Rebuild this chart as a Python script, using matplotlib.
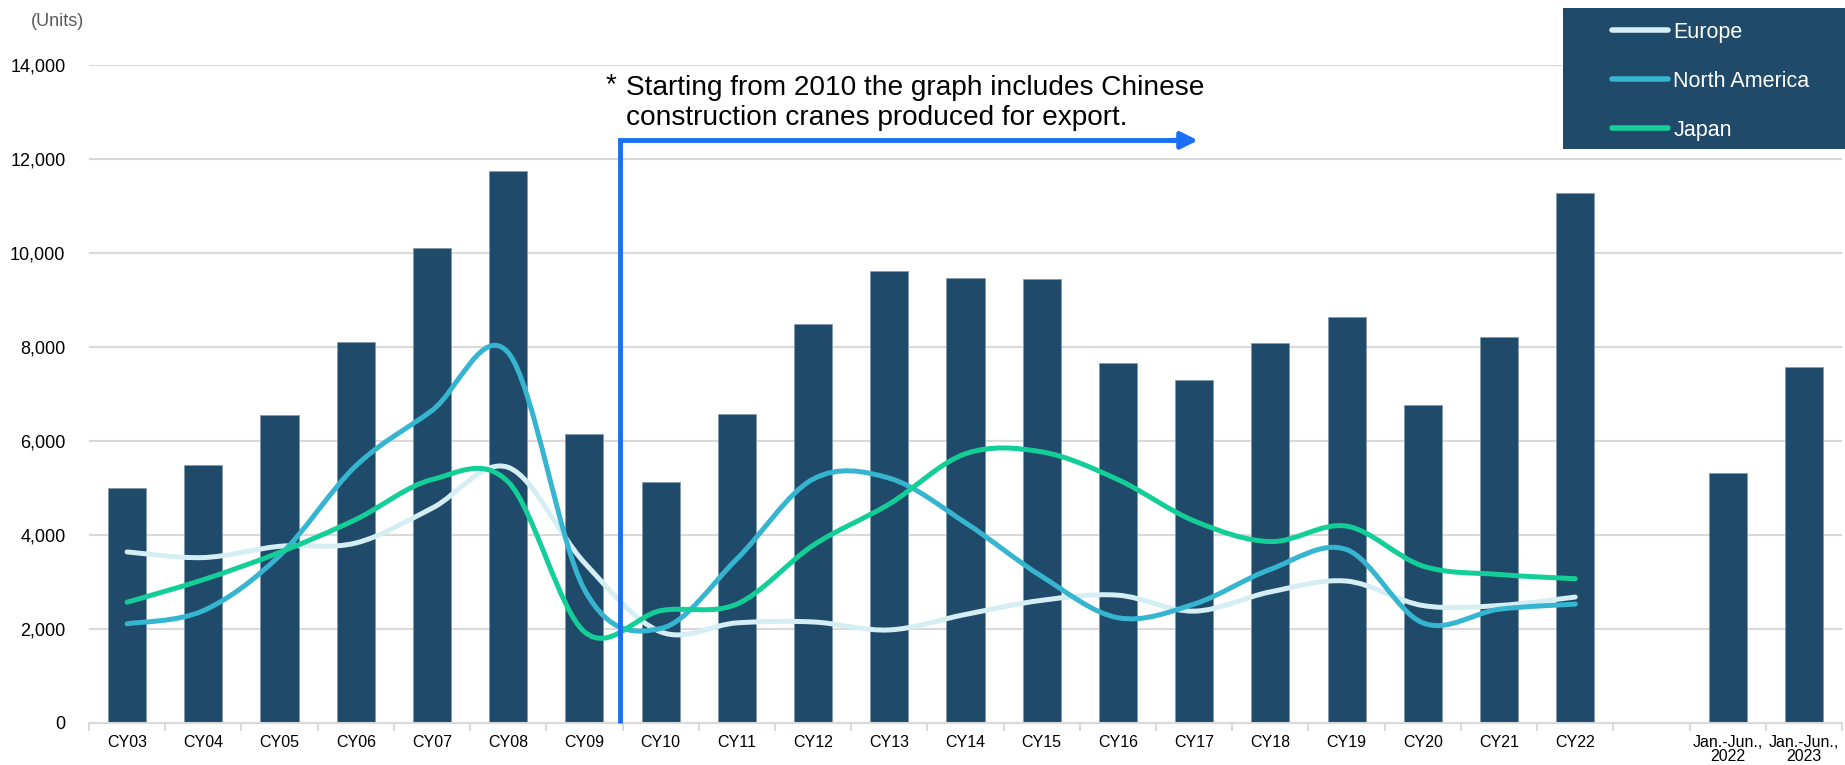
import numpy as np
import matplotlib
matplotlib.use("Agg")
import matplotlib.pyplot as plt
from matplotlib.path import Path
from matplotlib.patches import PathPatch, Rectangle
from matplotlib.lines import Line2D

plt.rcParams['font.family'] = ['Liberation Sans', 'DejaVu Sans']

# Data (units)
categories = ["CY03", "CY04", "CY05", "CY06", "CY07", "CY08", "CY09", "CY10",
              "CY11", "CY12", "CY13", "CY14", "CY15", "CY16", "CY17", "CY18",
              "CY19", "CY20", "CY21", "CY22", "", "Jan.-Jun.,\n2022", "Jan.-Jun.,\n2023"]
total = [5000, 5470, 6550, 8100, 10100, 11730, 6150, 5120, 6570, 8490, 9610,
         9460, 9430, 7660, 7290, 8070, 8620, 6760, 8200, 11280, None, 5310, 7560]
europe = [3630, 3510, 3750, 3820, 4560, 5430, 3400, 1930, 2120, 2140, 1970,
          2300, 2600, 2710, 2370, 2780, 3010, 2490, 2490, 2670]
north_america = [2100, 2380, 3550, 5460, 6640, 7870, 2830, 2000, 3480, 5180,
                 5200, 4250, 3110, 2230, 2520, 3260, 3680, 2120, 2410, 2520]
japan = [2560, 3040, 3620, 4320, 5170, 5120, 1930, 2380, 2520, 3770, 4650,
         5720, 5760, 5170, 4290, 3850, 4180, 3330, 3150, 3060]

bar_color = "#204A6A"
colors = {"Europe": "#D5EEF4", "North America": "#35B5D0", "Japan": "#13CE96"}


def smooth_path(xs, ys):
    # Bezier segments through the points (spreadsheet-style smoothed line)
    pts = np.column_stack([xs, ys]).astype(float)
    n = len(pts)
    verts = [pts[0]]
    codes = [Path.MOVETO]
    for i in range(n - 1):
        p0 = pts[i - 1] if i > 0 else pts[i]
        p1 = pts[i]
        p2 = pts[i + 1]
        p3 = pts[i + 2] if i + 2 < n else pts[i + 1]
        c1 = p1 + (p2 - p0) / 6.0
        c2 = p2 - (p3 - p1) / 6.0
        verts += [c1, c2, p2]
        codes += [Path.CURVE4] * 3
    return Path(verts, codes)


fig = plt.figure(figsize=(18.45, 7.65), dpi=100)
ax = fig.add_axes([89 / 1845, 42.5 / 765, 1753 / 1845, 657.8 / 765])

x = np.arange(len(categories))
bx = [i for i, v in enumerate(total) if v is not None]
bv = [v for v in total if v is not None]
ax.bar(bx, bv, width=0.5, color=bar_color, edgecolor="#7f98ad", linewidth=0.5, zorder=2)

for name, vals in [("Europe", europe), ("North America", north_america), ("Japan", japan)]:
    p = smooth_path(np.arange(len(vals)), vals)
    ax.add_patch(PathPatch(p, facecolor="none", edgecolor=colors[name], lw=3.6,
                           capstyle="round", joinstyle="round", zorder=3))

ax.set_xlim(-0.5, len(categories) - 0.5)
ax.set_ylim(0, 14000)
ax.set_yticks(np.arange(0, 14001, 2000))
ax.set_yticklabels([f"{v:,}" for v in range(0, 14001, 2000)], fontsize=13)
ax.yaxis.grid(True, color="#D9D9D9", lw=1.5, zorder=0)
ax.set_axisbelow(True)
ax.tick_params(axis="y", length=0, pad=17)

ax.set_xticks(x)
ax.set_xticklabels(categories, fontsize=11.5, linespacing=0.95)
ax.set_xticks(np.arange(-0.5, len(categories), 1.0), minor=True)
ax.tick_params(axis="x", which="major", length=0, pad=9)
ax.tick_params(axis="x", which="minor", length=6, color="#D9D9D9", width=1.5)

for s in ["top", "right", "left"]:
    ax.spines[s].set_visible(False)
ax.spines["bottom"].set_color("#D9D9D9")
ax.spines["bottom"].set_linewidth(1.5)

# Note and arrow
arrow_color = "#1A6FF5"
ax.plot([6.47, 6.47, 13.85], [0, 12390, 12390], color=arrow_color, lw=3.5,
        solid_capstyle="butt", solid_joinstyle="miter", zorder=4, clip_on=False)
ax.annotate("", xy=(14.05, 12390), xytext=(13.7, 12390),
            arrowprops=dict(arrowstyle="-|>,head_length=1.0,head_width=0.5",
                            color=arrow_color, lw=3.5, shrinkA=0, shrinkB=0), zorder=4)
ax.text(6.28, 13560, "*", fontsize=20, ha="left", va="center", zorder=5)
ax.text(6.545, 13190, "Starting from 2010 the graph includes Chinese\nconstruction cranes produced for export.",
        fontsize=20.2, ha="left", va="center", linespacing=1.22, zorder=5)

fig.text(57 / 1845, 1 - 21 / 765, "(Units)", fontsize=13, color="#595959", ha="center", va="center")

# Legend box
fig.patches.append(Rectangle((1563 / 1845, 1 - 149 / 765), (1845 - 1563) / 1845, 141 / 765,
                             transform=fig.transFigure, facecolor=bar_color, edgecolor="none", zorder=10))
handles = [Line2D([], [], color=colors[k], lw=4, solid_capstyle="round") for k in colors]
leg = fig.legend(handles, list(colors.keys()), loc="upper left",
                 bbox_to_anchor=(1612 / 1845, 1 - 22 / 765), frameon=False, fontsize=15.5,
                 handlelength=2.6, handletextpad=0.25, labelspacing=1.3, borderpad=0,
                 borderaxespad=0, labelcolor="white")
leg.set_zorder(11)

fig.savefig("out.png", dpi=100)
